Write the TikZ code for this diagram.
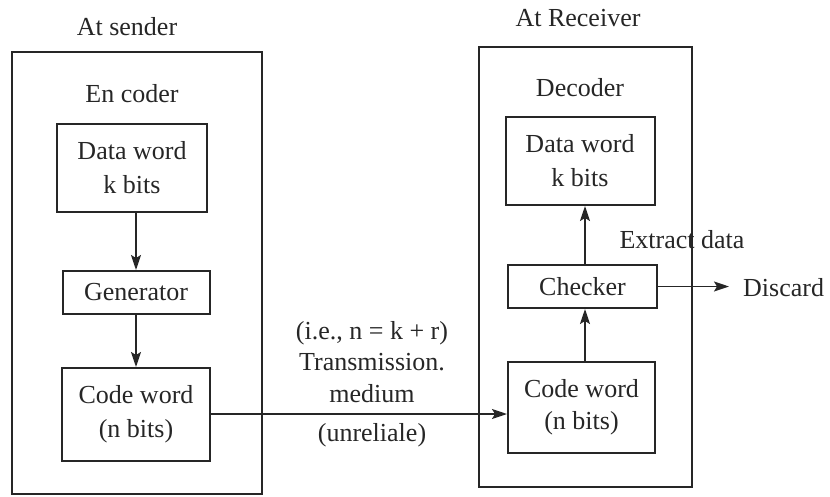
\documentclass[tikz,border=0pt]{standalone}
\usepackage{fontspec}
\setmainfont{Liberation Serif}
\usetikzlibrary{arrows.meta,calc}
\begin{document}
\begin{tikzpicture}[x=1pt,y=-1pt,
  every node/.style={font=\fontsize{26}{34}\selectfont, text=black!85},
  blockbox/.style={draw=black!85, line width=2pt, align=center, inner sep=0pt},
  lbl/.style={align=center, inner sep=0pt},
  arr/.style={draw=black!85, line width=1.8pt, -{Stealth[length=15pt,width=10pt,inset=3pt]}}
]
\useasboundingbox (0,0) rectangle (830,496);
% sender side
\node[lbl] (atsender) at (127,27) {At sender};
\node[draw=black!85, line width=2pt, minimum width=250pt, minimum height=442pt, inner sep=0pt] (outerL) at (137,273) {};
\node[lbl] (encoder) at (132,94) {En coder};
\node[blockbox, minimum width=150pt, minimum height=88pt] (dwL) at (132,168) {Data word\\k bits};
\node[blockbox, minimum width=147pt, minimum height=43pt] (genL) at (136,292.5) {Generator};
\node[blockbox, minimum width=148pt, minimum height=93pt] (cwL) at (136,414.5) {Code word\\(n bits)};
\draw[arr] (genL.north |- dwL.south) -- (genL.north);
\draw[arr] (genL.south) -- (genL.south |- cwL.north);
% receiver side
\node[lbl] (atrecv) at (578,18) {At Receiver};
\node[draw=black!85, line width=2pt, minimum width=213pt, minimum height=440pt, inner sep=0pt] (outerR) at (585.5,267) {};
\node[lbl] (decoder) at (580,88) {Decoder};
\node[blockbox, minimum width=149pt, minimum height=88pt] (dwR) at (580,161) {Data word\\k bits};
\node[blockbox, minimum width=149pt, minimum height=43pt] (chk) at (582.5,286.5) {Checker};
\node[blockbox, minimum width=147pt, minimum height=91pt, font=\fontsize{26}{32}\selectfont] (cwR) at (581.5,407.5) {Code word\\(n bits)};
\coordinate (vx) at (585,0);
\draw[arr] (vx |- cwR.north) -- (vx |- chk.south);
\draw[arr] (vx |- chk.north) -- (vx |- dwR.south);
\node[lbl] (extract) at (682,240) {Extract data};
\node[lbl, anchor=west] (discard) at (743,288) {Discard};
\draw[arr, shorten >=14pt] (chk.east) -- (chk.east -| discard.west);
% transmission
\coordinate (tx) at (0,414);
\draw[arr] (cwL.east |- tx) -- (cwR.west |- tx);
\node[lbl, font=\fontsize{26}{31.5}\selectfont] (medium) at (372,362) {(i.e., n = k + r)\\Transmission.\\medium};
\node[lbl] (unrel) at (372,435) {(unreliale)};
\end{tikzpicture}
\end{document}
